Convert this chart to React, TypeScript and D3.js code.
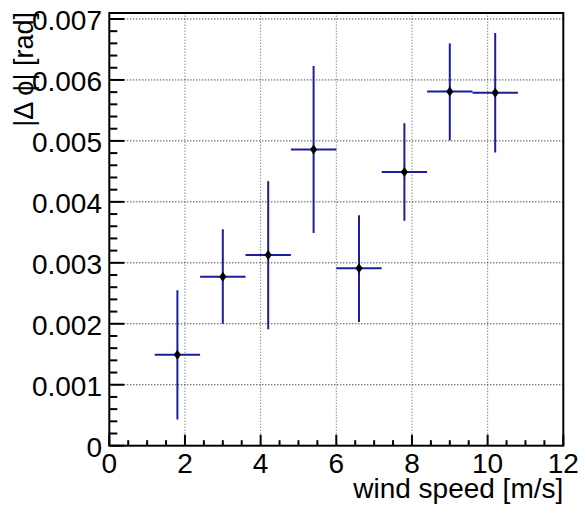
import React from "react";
import * as d3 from "d3";

const windSpeed = [1.8, 3.0, 4.2, 5.4, 6.6, 7.8, 9.0, 10.2];
const windErrLow = [0.6, 0.6, 0.6, 0.6, 0.6, 0.6, 0.6, 0.6];
const windErrHigh = [0.6, 0.6, 0.6, 0.6, 0.6, 0.6, 0.6, 0.6];
const dPhi = [0.00149, 0.00277, 0.00313, 0.00486, 0.00291, 0.00449, 0.00581, 0.00579];
const dPhiLow = [0.00043, 0.002, 0.00191, 0.00349, 0.00203, 0.00369, 0.00501, 0.00481];
const dPhiHigh = [0.00255, 0.00355, 0.00434, 0.00623, 0.00378, 0.00529, 0.0066, 0.00677];
const xTickLabels = ["0", "2", "4", "6", "8", "10", "12"];
const yTickLabels = ["0", "0.001", "0.002", "0.003", "0.004", "0.005", "0.006", "0.007"];
const xTitle = "wind speed [m/s]";
const yTitle = "|\u0394 \u03d5| [rad]";

const W = 579;
const H = 508;
const left = 109.3;
const right = 563.3;
const top = 13;
const bottom = 445.7;
const FONT = "'Liberation Sans', Arial, Helvetica, sans-serif";
const BLUE = "#1c1c9e";

export default function App() {
  const x = d3.scaleLinear().domain([0, 12]).range([left, right]);
  const y = d3.scaleLinear().domain([0, 0.0071]).range([bottom, bottom - 0.0071 / 0.001 * 60.96]);

  const xMajor = xTickLabels.map((t) => +t);
  const xMinor = d3.range(0, 12.001, 0.5).filter((v) => Math.abs(v / 2 - Math.round(v / 2)) > 1e-6);
  const yMajor = yTickLabels.map((t) => +t);
  const yMinor = d3.range(0, 0.0071, 0.0002).filter((v) => Math.abs(v / 0.001 - Math.round(v / 0.001)) > 1e-6);

  const diamond = (cx: number, cy: number) =>
    `M${cx},${cy - 5}L${cx + 3.6},${cy}L${cx},${cy + 5}L${cx - 3.6},${cy}Z`;

  return (
    <div style={{ position: "fixed", left: 0, top: 0 }}>
      <svg width={W} height={H} style={{ display: "block", background: "#fff" }}>
        {xMajor.filter((v) => v > 0 && v < 12).map((v) => (
          <line key={"gx" + v} x1={x(v)} x2={x(v)} y1={bottom} y2={top} stroke="#555" strokeWidth={1} strokeDasharray="1,2" />
        ))}
        {yMajor.filter((v) => v > 0).map((v) => (
          <line key={"gy" + v} x1={left} x2={right} y1={y(v)} y2={y(v)} stroke="#000" strokeWidth={1} strokeDasharray="1,2" />
        ))}
        <rect x={left} y={top} width={right - left} height={bottom - top} fill="none" stroke="#000" strokeWidth={2} />
        {xMajor.map((v) => (
          <line key={"xt" + v} x1={x(v)} x2={x(v)} y1={bottom} y2={bottom - 11} stroke="#000" strokeWidth={2} />
        ))}
        {xMinor.map((v) => (
          <line key={"xm" + v} x1={x(v)} x2={x(v)} y1={bottom} y2={bottom - 5.5} stroke="#000" strokeWidth={2} />
        ))}
        {yMajor.map((v) => (
          <line key={"yt" + v} x1={left} x2={left + 15} y1={y(v)} y2={y(v)} stroke="#000" strokeWidth={2} />
        ))}
        {yMinor.map((v, i) => (
          <line key={"ym" + i} x1={left} x2={left + 8} y1={y(v)} y2={y(v)} stroke="#000" strokeWidth={2} />
        ))}
        {xTickLabels.map((t) => (
          <text key={"xl" + t} x={x(+t)} y={bottom + 27.5} textAnchor="middle" fontFamily={FONT} fontSize={28} fill="#000">
            {t}
          </text>
        ))}
        {yTickLabels.map((t) => (
          <text key={"yl" + t} x={102} y={y(+t) + 11.5} textAnchor="end" fontFamily={FONT} fontSize={28} fill="#000">
            {t}
          </text>
        ))}
        <text x={right} y={498} textAnchor="end" fontFamily={FONT} fontSize={28} fill="#000">
          {xTitle}
        </text>
        <text transform={`translate(33,${top - 1}) rotate(-90)`} textAnchor="end" fontFamily={FONT} fontSize={27} fill="#000">
          {yTitle}
        </text>
        {windSpeed.map((w, i) => (
          <g key={"pt" + i}>
            <line x1={x(w - windErrLow[i])} x2={x(w + windErrHigh[i])} y1={y(dPhi[i])} y2={y(dPhi[i])} stroke={BLUE} strokeWidth={2} />
            <line x1={x(w)} x2={x(w)} y1={y(dPhiLow[i])} y2={y(dPhiHigh[i])} stroke={BLUE} strokeWidth={2} />
            <path d={diamond(x(w), y(dPhi[i]))} fill="#000" />
          </g>
        ))}
      </svg>
    </div>
  );
}
